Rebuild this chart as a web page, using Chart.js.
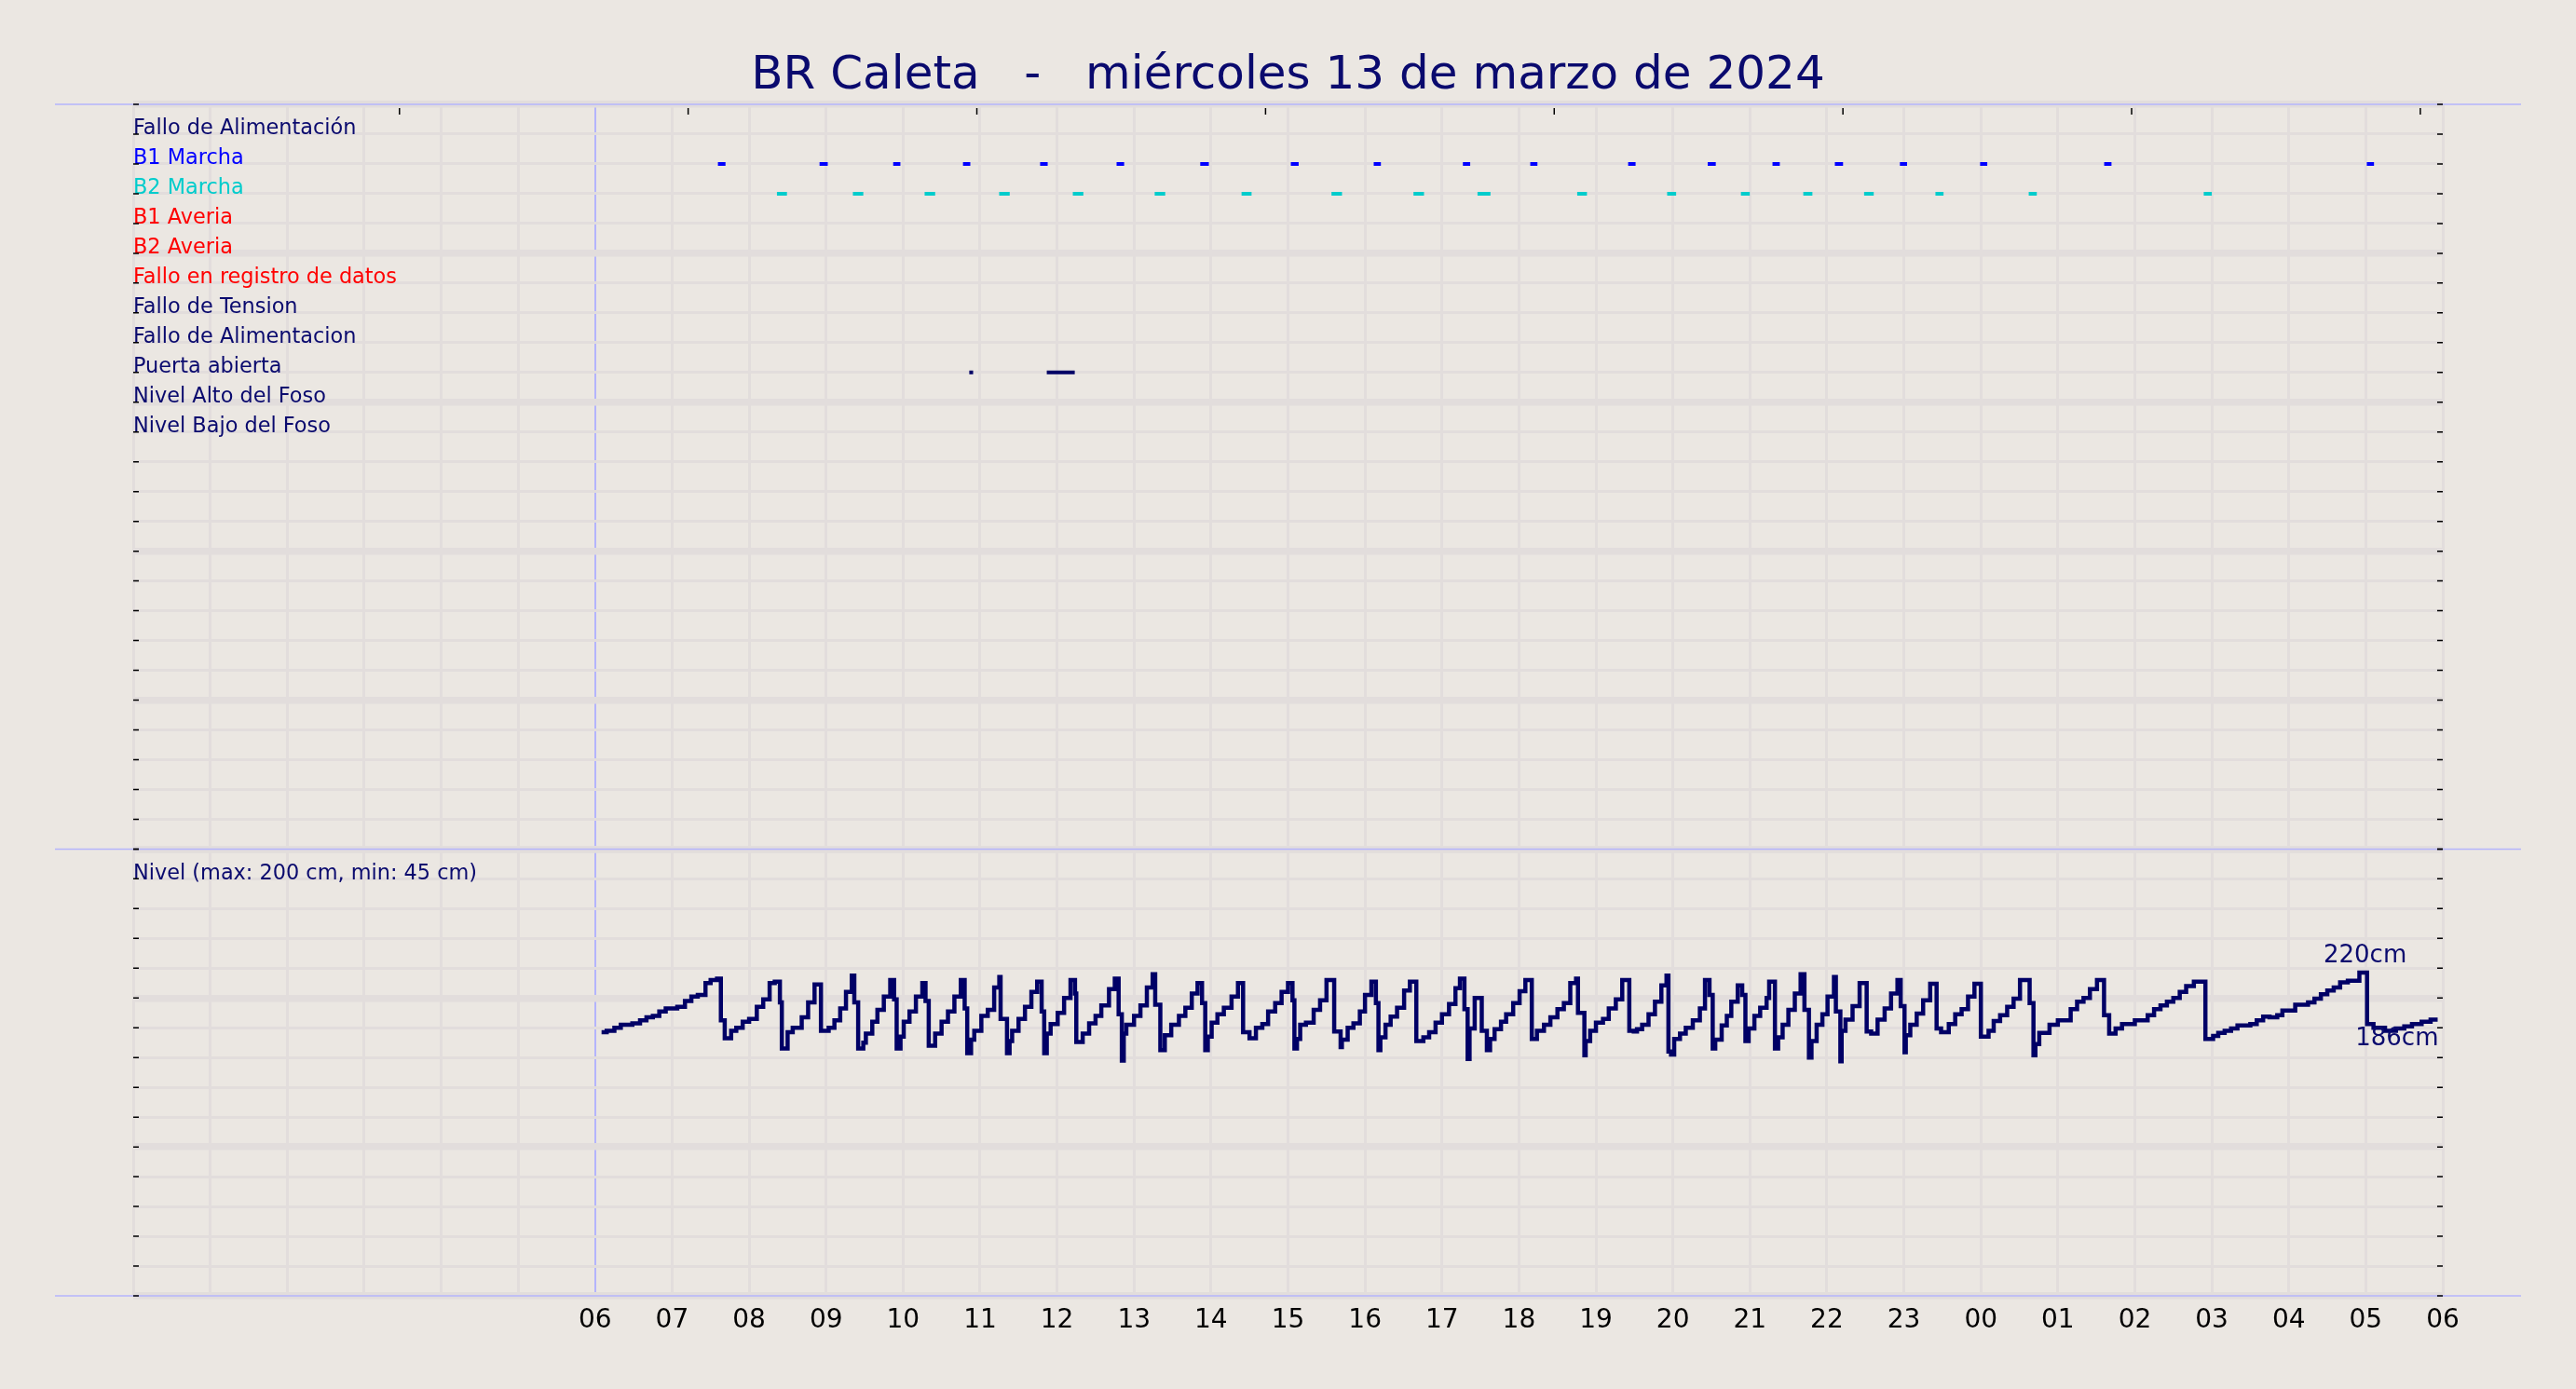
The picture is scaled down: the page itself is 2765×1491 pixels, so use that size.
<!DOCTYPE html>
<html>
<head>
<meta charset="utf-8">
<title>BR Caleta</title>
<script src="https://cdn.jsdelivr.net/npm/chart.js@4.4.1/dist/chart.umd.min.js"></script>
<style>
    html, body { margin: 0; padding: 0; background: #ebe7e2; overflow: hidden; }
    #chart { display: block; }
</style>
</head>
<body>
<canvas id="chart" width="2765" height="1491"></canvas>
<script>
// Event rows, top to bottom (row 1 = first line)
const eventLabels = [
    'Fallo de Alimentación', 'B1 Marcha', 'B2 Marcha', 'B1 Averia', 'B2 Averia',
    'Fallo en registro de datos', 'Fallo de Tension', 'Fallo de Alimentacion',
    'Puerta abierta', 'Nivel Alto del Foso', 'Nivel Bajo del Foso'
];
const eventColors = [
    '#0a0a6e', '#0000ff', '#00cccc', '#ff0000', '#ff0000',
    '#ff0000', '#0a0a6e', '#0a0a6e', '#0a0a6e', '#0a0a6e', '#0a0a6e'
];

// Run intervals, minutes from 00:00 of the 13th
const b1Runs = [
    [455.7, 461.6], [534.9, 541.3], [592.3, 597.9], [646.7, 652.4], [706.8, 712.7],
    [766.4, 772.3], [831.6, 838.3], [902.2, 908.3], [966.8, 972.4], [1036.3, 1042],
    [1088.8, 1094.4], [1165.1, 1170.9], [1227.1, 1233.4], [1277.6, 1283.3], [1326.2, 1332.6],
    [1376.9, 1382.5], [1439.4, 1445], [1536.1, 1541.8], [1740.8, 1746.4]
];
const b2Runs = [
    [501.7, 509.5], [560.9, 569], [616.8, 625], [674.9, 683.1], [732.3, 740.5],
    [796.1, 804.3], [863.8, 871.6], [933.9, 942.1], [997.8, 1006], [1047.7, 1057.8],
    [1125.4, 1133], [1195.5, 1202.5], [1253, 1259.9], [1301.6, 1308.7], [1349, 1356.5],
    [1404.6, 1410.9], [1477.3, 1483.6], [1613.7, 1620]
];
const doorRuns = [[651.6, 654.6], [712, 733.8]];

// Pit level (cm), [minute, value] at every step change
const levelSteps = [
    [365, 177], [369, 178], [375, 180], [380, 182], [389, 183], [395, 185], [400, 187], [405, 188],
    [410, 191], [415, 193], [424, 194], [430, 198], [435, 201], [440, 202], [446, 210], [450, 212],
    [455, 213], [458, 185], [461, 173], [466, 178], [470, 180], [475, 184], [480, 186], [486, 194],
    [491, 199], [496, 210], [500, 211], [504, 197], [505.5, 166], [510, 177], [514, 180], [521, 187],
    [526, 197], [531, 209], [536, 178], [542, 180], [546.5, 185], [551, 193], [555.5, 204], [560, 215],
    [562, 197], [565, 166], [569, 170], [571, 176], [576, 184], [580, 192], [585, 201], [590, 212],
    [593, 199], [595, 166], [598, 174], [600.5, 184], [605, 191], [610, 201], [615, 210], [617.5, 198],
    [620, 168], [625, 176], [630, 184], [635, 191], [640, 201], [645, 212], [648, 193], [650, 163],
    [653, 172], [655.5, 178], [661, 188], [666, 192], [671, 207], [675, 214], [676, 186], [681, 163],
    [683, 171], [685, 178], [690, 186], [695, 194], [700, 204], [704.5, 211], [708, 191], [710, 163],
    [712, 176], [715, 182.5], [720.5, 190], [725.5, 200], [730.5, 212], [734, 203], [735, 170.5], [740, 176],
    [745, 183], [750, 188], [754.5, 195], [760.5, 206], [765, 213], [768, 189], [770.5, 158], [772, 176],
    [774, 182], [780, 188], [785, 195], [790, 207], [794.5, 216], [796.5, 195.5], [800.5, 165], [804, 175],
    [809, 182], [815, 188], [820, 193.5], [825, 203], [829.5, 210], [833, 196.5], [835.5, 165], [837.5, 174],
    [840.5, 183.5], [845, 189], [850, 193.5], [856, 201], [861, 210], [865, 177], [870, 173], [875, 180],
    [880, 182.5], [884.5, 191], [890, 196.5], [895, 204], [900, 210], [903.5, 198.5], [905, 166], [907, 172.5],
    [909.5, 182], [914, 183.5], [920, 192], [925, 198.5], [930, 212], [936, 177.5], [941, 167], [942, 172],
    [946.5, 180], [951, 183], [956, 191], [960, 202], [965, 211], [968.5, 196.5], [970.5, 165], [972, 173.5],
    [976, 182], [980, 187.5], [985, 193.5], [990.5, 205], [995, 211], [1000, 171], [1005.5, 173.5], [1010, 177],
    [1015, 183.5], [1020, 189], [1025.5, 196], [1030.5, 206.5], [1034, 213], [1037.5, 192.5], [1040, 159], [1041.5, 179.5],
    [1045.5, 200], [1051, 178], [1055, 165], [1057.5, 172.5], [1061, 179], [1066, 184], [1070, 189], [1075.5, 196.5],
    [1080.5, 204.5], [1085, 212], [1090, 172.5], [1094, 178], [1099.5, 182], [1104.5, 187], [1110, 192.5], [1115, 196.5],
    [1120, 210], [1124.5, 213], [1126, 190], [1131, 161.5], [1132, 171], [1135.5, 178], [1140, 183.5], [1145.5, 186],
    [1150, 193], [1155.5, 199], [1160.5, 212], [1166, 178], [1169.5, 177.5], [1172, 179], [1176, 182], [1181, 189],
    [1186, 197.5], [1191, 208.5], [1195, 215], [1196.5, 164], [1198.5, 162], [1201, 172.5], [1205.5, 176], [1210, 180],
    [1215.5, 185], [1221, 193], [1225, 212], [1228.5, 202], [1231, 166], [1233, 172], [1238, 181.5], [1242, 188],
    [1245.5, 197.5], [1250.5, 208.5], [1254, 202], [1256.5, 171], [1259, 179.5], [1263.5, 188], [1268, 193.5], [1273, 200],
    [1275, 211], [1279.5, 166], [1282, 173.5], [1285.5, 182], [1290, 192], [1295, 203], [1299.5, 216], [1302.5, 192],
    [1306, 160], [1308, 171], [1312, 182], [1316.5, 189], [1320.5, 201], [1325.5, 214], [1327, 191], [1330.5, 157.5],
    [1331.5, 178], [1334.5, 185.5], [1340, 194.5], [1345.5, 210], [1351, 177.5], [1354.5, 176], [1359.5, 185.5], [1365, 193],
    [1370, 203], [1375, 212], [1377.5, 194.5], [1380.5, 163.5], [1381.5, 175], [1385, 182], [1390, 189.5], [1395, 198.5],
    [1400.5, 209.5], [1405.5, 179.5], [1409, 177], [1415, 182.5], [1420, 189], [1425, 192.5], [1430, 201], [1435, 209.5],
    [1440, 174], [1446, 178], [1450, 184.5], [1455, 188.5], [1460.5, 194], [1465.5, 199.5], [1470.5, 212], [1478, 196.5],
    [1481, 161.5], [1482.5, 169], [1485.5, 176.5], [1493.5, 182], [1500, 185], [1510, 192.5], [1515, 197.5], [1520, 200],
    [1525, 206], [1530.5, 212], [1536, 188.5], [1540, 176], [1545, 179.5], [1550, 182.5], [1560, 185], [1570, 188.5],
    [1575, 192.5], [1580, 195], [1585, 197.5], [1590, 200], [1595, 204], [1600, 208], [1606, 211], [1615, 172.5],
    [1621, 174.5], [1625, 176.5], [1630, 178], [1635, 179.5], [1640, 181.5], [1650, 182.5], [1655, 185], [1660, 187.5],
    [1665, 187], [1671, 188.5], [1675, 191.5], [1685, 195.5], [1695, 197], [1700, 199.5], [1705, 202.5], [1710, 205],
    [1715, 207], [1720, 210.5], [1726, 211.5], [1735, 217], [1741, 182.5], [1746, 180], [1755, 178], [1763.5, 179.5],
    [1770, 181], [1776, 182.5], [1783.5, 184], [1790.5, 185.5], [1796, 185.5]
];

// Minor ticks along the top edge (minutes)
const topTicks = [207.5, 432.5, 657.5, 882.5, 1107.5, 1332.5, 1557.5, 1782.5];

const titleText = 'BR Caleta   -   miércoles 13 de marzo de 2024';
const levelTitle = 'Nivel (max: 200 cm, min: 45 cm)';
const maxLabel = '220cm';
const lastLabel = '186cm';

const NAVY = '#0a0a6e';
const GRID = '#e2dddc';
const EDGE = '#b4b4fc';
const FONT = 'DejaVu Sans';

function runsToPoints(runs, row) {
    const pts = [];
    runs.forEach(([s, e]) => {
        pts.push({ x: s, y: row }, { x: e, y: row }, { x: e, y: null });
    });
    return pts;
}

function eventSet(runs, row, color) {
    return {
        data: runsToPoints(runs, row),
        yAxisID: 'ye',
        borderColor: color,
        borderWidth: 4,
        borderCapStyle: 'butt',
        pointRadius: 0,
        spanGaps: false,
        tension: 0
    };
}

// Edge lines, side dashes, top ticks and the level notes
const decor = {
    id: 'decor',
    afterDraw(chart) {
        const ctx = chart.ctx;
        const area = chart.chartArea;
        const { x, ye, yl } = chart.scales;
        ctx.save();

        ctx.strokeStyle = EDGE;
        ctx.lineWidth = 1.5;
        [area.top, ye.bottom, area.bottom].forEach(py => {
            ctx.beginPath();
            ctx.moveTo(area.left - 84, py);
            ctx.lineTo(area.right + 84, py);
            ctx.stroke();
        });

        ctx.strokeStyle = '#000';
        ctx.lineWidth = 1.5;
        [ye, yl].forEach(scale => {
            scale.ticks.forEach(t => {
                const py = scale.getPixelForValue(t.value);
                ctx.beginPath();
                ctx.moveTo(area.left, py);
                ctx.lineTo(area.left + 6, py);
                ctx.moveTo(area.right - 6, py);
                ctx.lineTo(area.right, py);
                ctx.stroke();
            });
        });

        topTicks.forEach(t => {
            const px = x.getPixelForValue(t);
            ctx.beginPath();
            ctx.moveTo(px, area.top + 4);
            ctx.lineTo(px, area.top + 11);
            ctx.stroke();
        });

        // max step and last value notes
        let iMax = 0;
        levelSteps.forEach((p, i) => { if (p[1] > levelSteps[iMax][1]) iMax = i; });
        const next = levelSteps[Math.min(iMax + 1, levelSteps.length - 1)];
        const xMax = (x.getPixelForValue(levelSteps[iMax][0]) + x.getPixelForValue(next[0])) / 2;
        const last = levelSteps[levelSteps.length - 1];

        ctx.fillStyle = NAVY;
        ctx.font = '26px "' + FONT + '"';
        ctx.textBaseline = 'alphabetic';
        ctx.textAlign = 'center';
        ctx.fillText(maxLabel, xMax + 2, yl.getPixelForValue(levelSteps[iMax][1]) - 11);
        ctx.textAlign = 'right';
        ctx.fillText(lastLabel, x.getPixelForValue(last[0]) + 1, yl.getPixelForValue(last[1]) + 28);
        ctx.restore();
    }
};

const ctx = document.getElementById('chart').getContext('2d');

new Chart(ctx, {
    type: 'line',
    data: {
        datasets: [
            {
                data: levelSteps.map(([t, v]) => ({ x: t, y: v })),
                yAxisID: 'yl',
                borderColor: '#000066',
                borderWidth: 4.5,
                borderJoinStyle: 'miter',
                stepped: true,
                pointRadius: 0
            },
            eventSet(b1Runs, 2, '#0000ff'),
            eventSet(b2Runs, 3, '#00cccc'),
            eventSet(doorRuns, 9, '#000066')
        ]
    },
    options: {
        responsive: false,
        devicePixelRatio: 1,
        animation: false,
        events: [],
        layout: { padding: { left: 143, right: 143, top: 0, bottom: 0 } },
        plugins: {
            legend: { display: false },
            tooltip: { enabled: false },
            title: {
                display: true,
                text: titleText,
                color: NAVY,
                font: { family: FONT, size: 50, weight: 'normal' },
                padding: { top: 52, bottom: 0 }
            }
        },
        scales: {
            x: {
                type: 'linear',
                position: 'bottom',
                min: 0,
                max: 1800,
                afterFit: s => { s.height = 100; },
                border: { display: false },
                grid: {
                    drawTicks: false,
                    color: c => c.tick && c.tick.value === 360 ? EDGE : GRID,
                    lineWidth: c => c.tick && c.tick.value === 360 ? 2 : 3
                },
                ticks: {
                    stepSize: 60,
                    autoSkip: false,
                    maxRotation: 0,
                    padding: 10,
                    color: '#000',
                    font: { family: FONT, size: 28 },
                    callback: v => v < 360 ? '' : String(Math.round(v / 60) % 24).padStart(2, '0')
                }
            },
            yl: {
                type: 'linear',
                position: 'left',
                stack: 'panels',
                stackWeight: 15,
                weight: 0,
                min: 0,
                max: 300,
                afterFit: s => { s.width = 0; },
                border: { display: false },
                grid: {
                    drawTicks: false,
                    color: GRID,
                    lineWidth: c => c.tick && c.tick.value % 100 === 0 ? 7.5 : 3
                },
                ticks: {
                    stepSize: 20,
                    autoSkip: false,
                    mirror: true,
                    padding: 0,
                    labelOffset: -5.5,
                    color: NAVY,
                    font: { family: FONT, size: 22.4 },
                    callback: v => v === 280 ? levelTitle : ''
                }
            },
            ye: {
                type: 'linear',
                position: 'left',
                stack: 'panels',
                stackWeight: 25,
                weight: 1,
                min: 0,
                max: 25,
                reverse: true,
                afterFit: s => { s.width = 0; },
                border: { display: false },
                grid: {
                    drawTicks: false,
                    color: GRID,
                    lineWidth: c => c.tick && c.tick.value % 5 === 0 ? 7.5 : 3
                },
                ticks: {
                    stepSize: 1,
                    autoSkip: false,
                    mirror: true,
                    padding: 0,
                    labelOffset: -5.5,
                    color: c => eventColors[c.tick.value - 1] || NAVY,
                    font: { family: FONT, size: 22.4 },
                    callback: v => eventLabels[v - 1] || ''
                }
            }
        }
    },
    plugins: [decor]
});
</script>
</body>
</html>
